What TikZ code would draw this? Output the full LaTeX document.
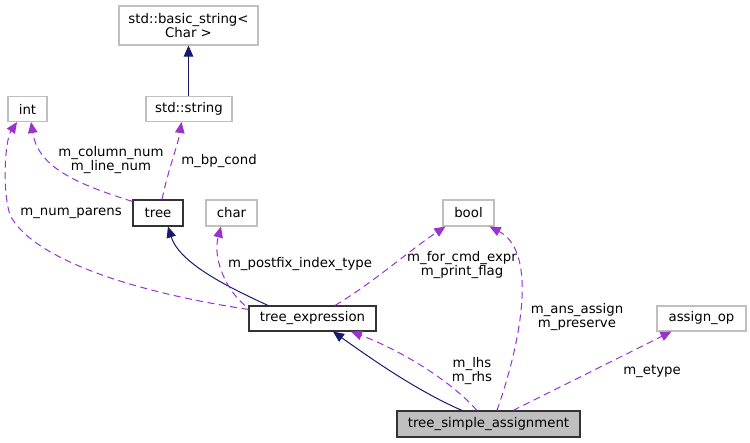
\documentclass[tikz,border=0pt]{standalone}
\usepackage{fontspec}
\setmainfont{DejaVu Sans}
\usetikzlibrary{arrows.meta}
\definecolor{edgepurple}{HTML}{9A32CD}
\definecolor{edgenavy}{HTML}{191970}
\definecolor{boxgray}{HTML}{BFBFBF}
\begin{document}
\begin{tikzpicture}[
    x=1pt,y=-1pt,
    every node/.style={font=\fontsize{13.3}{14.5}\selectfont},
    cls/.style={draw=boxgray,line width=1.1pt,fill=white,inner sep=0pt,align=center},
    known/.style={draw=black!80,line width=1.1pt,fill=white,inner sep=0pt,align=center},
    focus/.style={draw=black!80,line width=1.1pt,fill=boxgray,inner sep=0pt,align=center},
    usage/.style={draw=edgepurple,line width=1pt,dash pattern=on 7pt off 4.5pt},
    derive/.style={draw=edgenavy,line width=1pt},
    lbl/.style={align=center,inner sep=0pt},
    >={Triangle[length=11pt,width=9.5pt]}
]
\useasboundingbox (0,0) rectangle (750,443);

\node[cls,minimum width=139pt,minimum height=39pt] (bstr) at (188.5,25.5) {std::basic\_string<\\Char >};
\node[cls,minimum width=86pt,minimum height=25pt] (str) at (189,109) {std::string};
\node[cls,minimum width=39pt,minimum height=25pt] (int) at (27.5,109) {int};
\node[known,minimum width=50pt,minimum height=26pt] (tree) at (158,213) {tree};
\node[cls,minimum width=51pt,minimum height=26pt] (char) at (231.5,213) {char};
\node[cls,minimum width=51pt,minimum height=26pt] (bool) at (468.5,213) {bool};
\node[known,minimum width=127pt,minimum height=25pt] (texpr) at (312.5,318.5) {tree\_expression};
\node[cls,minimum width=89pt,minimum height=25pt] (aop) at (701.5,318.5) {assign\_op};
\node[focus,minimum width=183pt,minimum height=26pt] (tsa) at (488.5,424) {tree\_simple\_assignment};

% inheritance
\draw[derive,->] (bstr.south |- str.north)--(bstr.south);
\draw[derive,->] ([xshift=-44.5pt]texpr.north) .. controls (235,290) and (180,265) .. ([xshift=10pt]tree.south);
\draw[derive,->] ([xshift=-26.5pt]tsa.north) .. controls (420,392) and (380,365) .. ([xshift=20.5pt]texpr.south);

% members
\draw[usage,->] ([xshift=4pt]tree.north) .. controls (168,170) and (178,145) .. ([xshift=-7.5pt]str.south);
\draw[usage,->] ([yshift=-2pt]tree.north west) .. controls (70,182) and (38,165) .. ([xshift=3.5pt]int.south);
\draw[usage,->] ([yshift=-4pt]texpr.north west) .. controls (120,290) and (30,255) .. (10,215)
    .. controls (2,190) and (5,140) .. ([xshift=-10.5pt]int.south);
\draw[usage,->] ([xshift=-67.5pt]texpr.north) .. controls (228,292) and (212,260) .. ([xshift=-10.5pt]char.south);
\draw[usage,->] ([xshift=22.5pt]texpr.north) .. controls (370,285) and (410,250) .. ([xshift=3pt]bool.south west);
\draw[usage,->] ([xshift=-11.5pt]tsa.north) .. controls (450,380) and (400,350) .. ([xshift=38.5pt]texpr.south);
\draw[usage,->] ([xshift=8.5pt]tsa.north) .. controls (525,330) and (535,250) .. ([xshift=-5pt]bool.south east);
\draw[usage,->] ([xshift=24.5pt]tsa.north)--([xshift=-30pt]aop.south);

\node[lbl] (lbpcond) at (219,161) {m\_bp\_cond};
\node[lbl] (lcolnum) at (111,160) {m\_column\_num\\m\_line\_num};
\node[lbl] (lparens) at (71,213) {m\_num\_parens};
\node[lbl] (lpostfix) at (300,264) {m\_postfix\_index\_type};
\node[lbl] (lforcmd) at (462,265) {m\_for\_cmd\_expr\\m\_print\_flag};
\node[lbl] (lansassign) at (577,317) {m\_ans\_assign\\m\_preserve};
\node[lbl] (llhs) at (472,371) {m\_lhs\\m\_rhs};
\node[lbl] (letype) at (652,371) {m\_etype};
\end{tikzpicture}
\end{document}
